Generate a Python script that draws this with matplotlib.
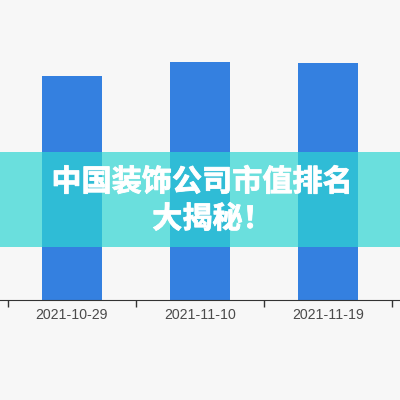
import matplotlib.pyplot as plt
import matplotlib.patheffects as pe

dates = ["2021-10-29", "2021-11-10", "2021-11-19"]
values = [80.0, 85.0, 84.6]
title_lines = ["中国装饰公司市值排名", "大揭秘！"]

plt.rcParams['font.family'] = ['Liberation Sans', 'DejaVu Sans']
cjk = ['Noto Sans CJK SC', 'DejaVu Sans']

fig = plt.figure(figsize=(4, 4), dpi=100, facecolor="#f7f7f7")
ax = fig.add_axes([0, 0.25, 1, 0.70])
ax.set_facecolor("#f7f7f7")

pos = list(range(len(dates)))
ax.bar(pos, values, width=60 / 128, color="#3480e0", zorder=2)

pad = 8 / 128
ax.set_xlim(-0.5 - pad, len(dates) - 0.5 + pad)
ax.set_ylim(0, 100)

# boundary ticks between categories, labels centred under the bars
ax.set_xticks([p - 0.5 for p in pos] + [len(dates) - 0.5])
ax.set_xticklabels([])
ax.tick_params(axis="x", which="major", length=5, width=1, color="#333333")
ax.set_xticks(pos, minor=True)
ax.set_xticklabels(dates, minor=True, fontsize=10.2, color="#4a4a4a")
ax.tick_params(axis="x", which="minor", length=0, pad=6)
ax.set_yticks([])

for s in ["top", "right", "left"]:
    ax.spines[s].set_visible(False)
ax.spines["bottom"].set_color("#333333")

# translucent banner with the headline
fig.patches.append(plt.Rectangle((0, 153 / 400), 1, 95 / 400, transform=fig.transFigure,
                                 facecolor="#2ed6d3", alpha=0.7, edgecolor="none", zorder=5))
heavy = [pe.withStroke(linewidth=0.6, foreground="white")]
fig.text(0.505, 1 - 182 / 400, title_lines[0], ha="center", va="center", color="white",
         fontsize=21.7, fontweight="bold", family=cjk, zorder=6, path_effects=heavy)
fig.text(0.531, 1 - 219 / 400, title_lines[1], ha="center", va="center", color="white",
         fontsize=21.7, fontweight="bold", family=cjk, zorder=6, path_effects=heavy)

fig.savefig("out.png", dpi=100, facecolor="#f7f7f7")
